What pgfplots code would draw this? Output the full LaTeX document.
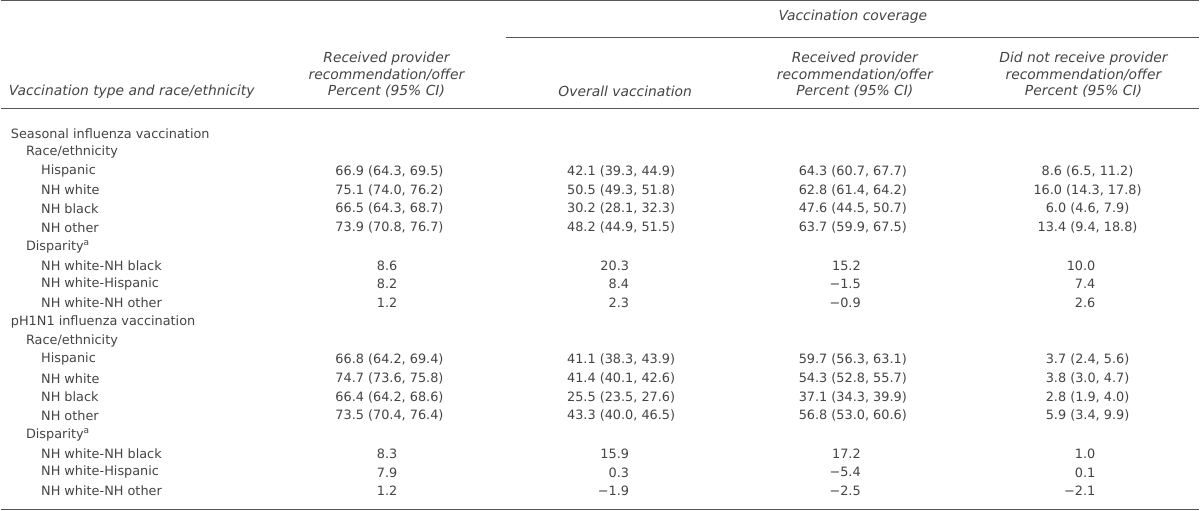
\documentclass[border=0pt]{standalone}
\usepackage{pgfplots}
\pgfplotsset{compat=1.18}
\usepackage{pgfplotstable}
\usepackage{fontspec}
\setmainfont{DejaVu Sans}
\definecolor{txt}{HTML}{444444}
\definecolor{rule}{HTML}{555555}

\pgfplotstableread[col sep=semicolon]{
y;lvl;name
0;0;Seasonal influenza vaccination
1;1;Race/ethnicity
2;2;Hispanic
3;2;NH white
4;2;NH black
5;2;NH other
6;1;Disparity\textsuperscript{a}
7;2;NH white-NH black
8;2;NH white-Hispanic
9;2;NH white-NH other
10;0;pH1N1 influenza vaccination
11;1;Race/ethnicity
12;2;Hispanic
13;2;NH white
14;2;NH black
15;2;NH other
16;1;Disparity\textsuperscript{a}
17;2;NH white-NH black
18;2;NH white-Hispanic
19;2;NH white-NH other
}\rowlabels

\pgfplotstableread[col sep=semicolon]{
y;a;b;c;d
2;66.9 (64.3, 69.5);42.1 (39.3, 44.9);64.3 (60.7, 67.7);8.6 (6.5, 11.2)
3;75.1 (74.0, 76.2);50.5 (49.3, 51.8);62.8 (61.4, 64.2);16.0 (14.3, 17.8)
4;66.5 (64.3, 68.7);30.2 (28.1, 32.3);47.6 (44.5, 50.7);6.0 (4.6, 7.9)
5;73.9 (70.8, 76.7);48.2 (44.9, 51.5);63.7 (59.9, 67.5);13.4 (9.4, 18.8)
12;66.8 (64.2, 69.4);41.1 (38.3, 43.9);59.7 (56.3, 63.1);3.7 (2.4, 5.6)
13;74.7 (73.6, 75.8);41.4 (40.1, 42.6);54.3 (52.8, 55.7);3.8 (3.0, 4.7)
14;66.4 (64.2, 68.6);25.5 (23.5, 27.6);37.1 (34.3, 39.9);2.8 (1.9, 4.0)
15;73.5 (70.4, 76.4);43.3 (40.0, 46.5);56.8 (53.0, 60.6);5.9 (3.4, 9.9)
}\mainvals

\pgfplotstableread[col sep=semicolon]{
y;a;b;c;d
7;8.6;20.3;15.2;10.0
8;8.2;8.4;−1.5;7.4
9;1.2;2.3;−0.9;2.6
17;8.3;15.9;17.2;1.0
18;7.9;0.3;−5.4;0.1
19;1.2;−1.9;−2.5;−2.1
}\dispvals

\newcommand{\fs}{\fontsize{12.8}{15}\selectfont}
\newcommand{\hfs}{\fontsize{13.8}{16}\selectfont}

\begin{document}
\begin{tikzpicture}
\begin{axis}[
  width=1200bp, height=513bp, scale only axis,
  xmin=0, xmax=1200, ymin=0, ymax=513, y dir=reverse,
  hide axis, clip=false,
  every node near coord/.append style={font=\fs, text=txt, inner sep=0pt, anchor=center},
]
% rules
\addplot[rule, line width=1.3pt] coordinates {(0,3) (1190,3)};
\addplot[rule, line width=1pt] coordinates {(502,40) (1190,40)};
\addplot[rule, line width=1.3pt] coordinates {(0,110) (1190,110)};
\addplot[rule, line width=1.3pt] coordinates {(0,508) (1190,508)};

% row labels
\addplot[only marks, mark=none, nodes near coords, point meta=explicit symbolic,
  every node near coord/.append style={anchor=west}]
  table[x expr={10+15*\thisrow{lvl}}, y expr={135+18.68*\thisrow{y}}, meta=name] {\rowlabels};

% main values
\foreach \c/\xx in {a/386,b/616,c/846,d/1079}{
\edef\tmp{\noexpand\addplot[only marks, mark=none, nodes near coords, point meta=explicit symbolic]
  table[x expr={\xx}, y expr={135+18.68*\noexpand\thisrow{y}}, meta=\c] {\noexpand\mainvals};}
\tmp
\edef\tmp{\noexpand\addplot[only marks, mark=none, nodes near coords, point meta=explicit symbolic,
  every node near coord/.append style={anchor=east}]
  table[x expr={\xx+8}, y expr={135+18.68*\noexpand\thisrow{y}}, meta=\c] {\noexpand\dispvals};}
\tmp
}

% headers
\begin{scope}[every node/.style={font=\hfs\itshape, text=txt, inner sep=0pt}]
\node[anchor=center] at (axis cs:846,19) {Vaccination coverage};
\node[anchor=west] at (axis cs:8,93) {Vaccination type and race/ethnicity};
\node at (axis cs:383,61) {Received provider};
\node at (axis cs:383,77) {recommendation/offer};
\node at (axis cs:383,93) {Percent (95\% CI)};
\node at (axis cs:620,93) {Overall vaccination};
\node at (axis cs:848,61) {Received provider};
\node at (axis cs:848,77) {recommendation/offer};
\node at (axis cs:848,93) {Percent (95\% CI)};
\node at (axis cs:1075,61) {Did not receive provider};
\node at (axis cs:1075,77) {recommendation/offer};
\node at (axis cs:1075,93) {Percent (95\% CI)};
\end{scope}
\end{axis}
\end{tikzpicture}
\end{document}
